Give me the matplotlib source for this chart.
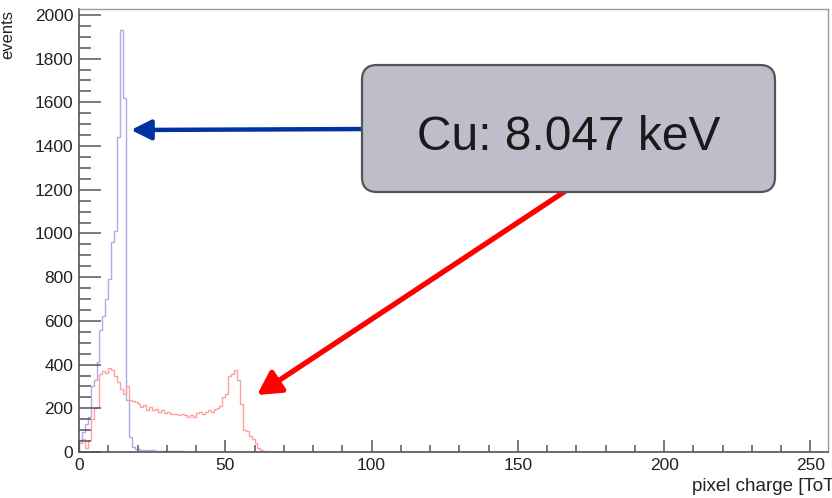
import numpy as np
import matplotlib
matplotlib.use('Agg')
import matplotlib.pyplot as plt
from matplotlib.patches import FancyBboxPatch, FancyArrowPatch
from matplotlib.ticker import MultipleLocator

plt.rcParams['font.family'] = ['Liberation Sans', 'DejaVu Sans']

# histogram: 256 bins of 1 ToT each
n_bins = 256
edges = np.arange(0, n_bins + 1)

# blue spectrum, bins 0..49
blue_head = [40, 90, 130, 160, 300, 330, 410, 560, 620, 700,
             790, 960, 1010, 1440, 1930, 1620, 240, 70, 25, 15,
             12, 10, 10, 8, 8, 7, 6, 6, 5, 5,
             4, 4, 4, 3, 3, 3, 2, 2, 2, 2,
             2, 1, 1, 1, 1, 1, 1, 0, 1, 0]

# red spectrum, bins 0..65
red_head = [55, 60, 18, 55, 150, 200, 205, 355, 370, 360,
            385, 375, 350, 320, 290, 265, 300, 240, 235, 228,
            218, 205, 215, 192, 205, 190, 195, 185, 190, 180,
            182, 175, 172, 175, 168, 172, 168, 160, 168, 160,
            178, 182, 175, 185, 192, 185, 195, 200, 210, 250,
            265, 350, 355, 375, 330, 220, 100, 95, 75, 60,
            40, 18, 8, 4, 3, 2]
# red tail, bins 66..169
red_tail = [2, 1, 1, 2, 1, 2, 2, 2, 1, 1,
            1, 0, 1, 1, 2, 2, 2, 1, 0, 1,
            0, 1, 1, 2, 2, 1, 0, 1, 0, 1,
            0, 1, 0, 0, 1, 1, 0, 1, 0, 0,
            1, 2, 2, 1, 1, 2, 1, 0, 0, 0,
            1, 0, 0, 2, 2, 1, 2, 2, 1, 2,
            2, 1, 2, 2, 0, 0, 1, 0, 0, 0,
            0, 1, 0, 1, 2, 2, 1, 0, 0, 0,
            0, 1, 0, 0, 0, 1, 2, 1, 0, 0,
            0, 0, 0, 0, 1, 1, 0, 0, 0, 0,
            0, 1, 0, 0]

blue = np.array(blue_head + [0] * (n_bins - len(blue_head)))
red_vals = red_head + red_tail
red = np.array(red_vals + [0] * (n_bins - len(red_vals)))

W, H = 832, 498
fig = plt.figure(figsize=(W / 100, H / 100), dpi=100)
ax = fig.add_axes([79 / W, 1 - 452 / H, (828 - 79) / W, (452 - 9) / H])

ax.stairs(blue, edges, color='#adadea', lw=1.0, baseline=0)
ax.stairs(red, edges, color='#ffa0a0', lw=1.0, baseline=0)

ax.set_xlim(0, 256)
ax.set_ylim(0, 2027)

ax.xaxis.set_major_locator(MultipleLocator(50))
ax.xaxis.set_minor_locator(MultipleLocator(10))
ax.yaxis.set_major_locator(MultipleLocator(200))
ax.yaxis.set_minor_locator(MultipleLocator(50))

tick_col = '#555555'
ax.tick_params(axis='y', which='major', direction='in', length=16, width=1.1,
               color=tick_col, labelsize=12.5, pad=4, labelcolor='#222222')
ax.tick_params(axis='y', which='minor', direction='in', length=8.4, width=1.1,
               color=tick_col)
ax.tick_params(axis='x', which='major', direction='in', length=8.6, width=1.1,
               color=tick_col, labelsize=12.5, pad=4, labelcolor='#222222')
ax.tick_params(axis='x', which='minor', direction='in', length=4.8, width=1.1,
               color=tick_col)

for side in ['left', 'bottom']:
    ax.spines[side].set_color('#555555')
    ax.spines[side].set_linewidth(1.2)
for side in ['top', 'right']:
    ax.spines[side].set_color('#999999')
    ax.spines[side].set_linewidth(1.0)

fig.text(8 / W, 1 - 10 / H, 'events', rotation=90, ha='center', va='top',
         fontsize=12, color='#222222')
fig.text(692 / W, 1 - 491 / H, 'pixel charge [ToT]', ha='left', va='baseline',
         fontsize=13.5, color='#222222')

# annotation: arrows and label box (positions in inches from bottom-left)
inch = fig.dpi_scale_trans
blue_arrow = FancyArrowPatch((3.72, (H - 129) / 100), (1.31, (H - 130) / 100),
                             transform=inch, arrowstyle='-|>,head_length=1.0,head_width=0.5',
                             mutation_scale=12, lw=3.2, color='#0033a0',
                             shrinkA=0, shrinkB=0, zorder=2)
red_arrow = FancyArrowPatch((5.70, (H - 188) / 100), (2.57, (H - 395) / 100),
                            transform=inch, arrowstyle='-|>,head_length=1.0,head_width=0.55',
                            mutation_scale=14, lw=3.8, color='#ff0000',
                            shrinkA=0, shrinkB=0, zorder=2)
fig.add_artist(blue_arrow)
fig.add_artist(red_arrow)

box = FancyBboxPatch((3.62, (H - 192) / 100), 4.13, 1.27,
                     boxstyle='round,pad=0,rounding_size=0.15', transform=inch,
                     facecolor='#bebecb', edgecolor='#555555', lw=1.6, zorder=3)
fig.add_artist(box)
fig.text(5.685, (H - 150) / 100, 'Cu: 8.047 keV', transform=inch, ha='center',
         va='baseline', fontsize=34.5, color='#1a1a1a', zorder=4)

fig.savefig('out.png', dpi=100)
